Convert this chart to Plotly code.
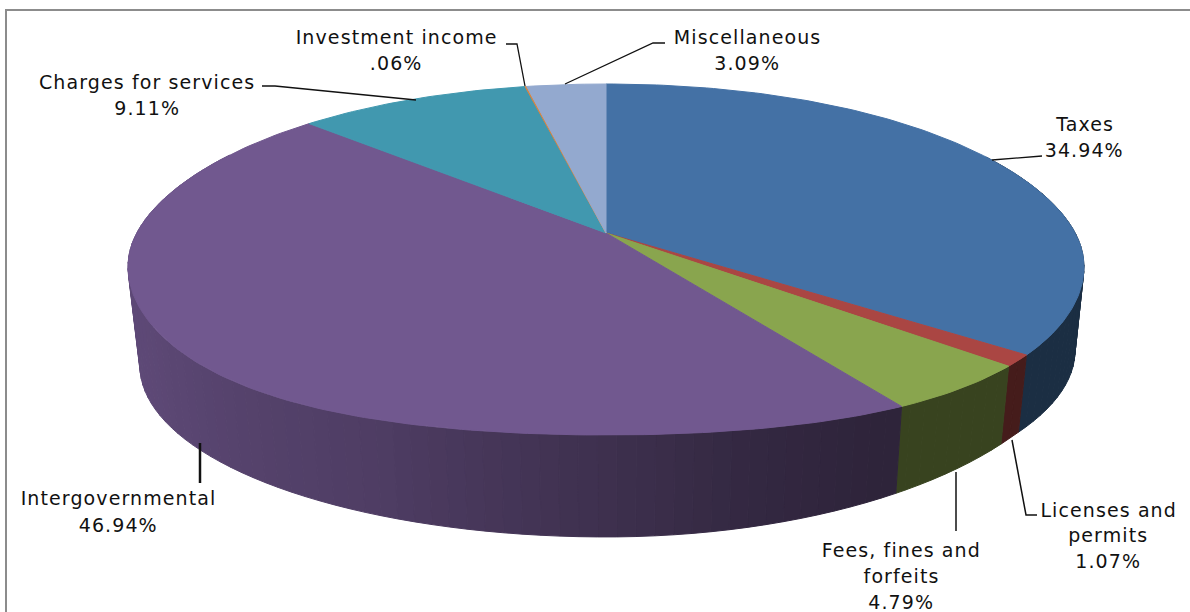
import math
import numpy as np
import plotly.graph_objects as go

categories = ["Taxes", "Licenses and permits", "Fees, fines and forfeits", "Intergovernmental",
              "Charges for services", "Investment income", "Miscellaneous"]
values = [34.94, 1.07, 4.79, 46.94, 9.11, 0.06, 3.09]
value_labels = ["34.94%", "1.07%", "4.79%", "46.94%", "9.11%", ".06%", "3.09%"]
colors = ["#4471a5", "#aa4643", "#89a54e", "#71588f", "#4198af", "#db843d", "#93a9cf"]

CX, CY = 606.0, 233.0
FX, FY, K = 472.5, 171.5, 0.151
SB, Y0 = 0.975, 340.0
BULGE = 10.0
SIDE_DROP = 7.0
RIGHT_LIFT = 15.0
RIGHT_PUSH = 3.0


def plane(a):
    X, Y = math.sin(a), math.cos(a)
    w = 1 + K * Y
    return CX + FX * X / w, CY - FY * Y / w


def top(a):
    x, y = plane(a)
    y += SIDE_DROP * math.sin(a) ** 4
    if math.cos(a) < 0:
        y += BULGE * math.sin(2 * a) ** 2
    return x, y


def bottom(a):
    x, y = plane(a)
    bx, by = CX + SB * (x - CX), Y0 + SB * (y - CY)
    X = math.sin(a)
    if X > 0:
        bx += RIGHT_PUSH * X
        by -= RIGHT_LIFT * min(1.0, X / 0.8) ** 2
    return bx, by


def shade(hex_color, f):
    r, g, b = int(hex_color[1:3], 16), int(hex_color[3:5], 16), int(hex_color[5:7], 16)
    return f"rgb({int(r*f)},{int(g*f)},{int(b*f)})"


def side_factor(deg):
    return float(np.interp(deg, [150, 165, 180, 205, 243, 285], [0.41, 0.46, 0.55, 0.70, 0.82, 0.87]))


fig = go.Figure()


def poly(xs, ys, color):
    fig.add_trace(go.Scatter(x=xs, y=ys, mode="lines", fill="toself", fillcolor=color,
                             line=dict(color=color, width=1), hoverinfo="skip", showlegend=False))


# side walls, painted from the back towards the viewer
strips = []
start = 0.0
for v, c in zip(values, colors):
    end = start + v * 3.6
    d = start
    while d < end - 1e-9:
        e = min(d + 2.0, end)
        if 60 < e and d < 300:
            a1, a2 = math.radians(d), math.radians(e)
            pts = [top(a1), top(a2), bottom(a2), bottom(a1)]
            strips.append((max(pts[2][1], pts[3][1]), pts, shade(c, side_factor((d + e) / 2))))
        d = e
    start = end
for _, pts, col in sorted(strips, key=lambda s: s[0]):
    poly([p[0] for p in pts] + [pts[0][0]], [p[1] for p in pts] + [pts[0][1]], col)

# top wedges
start = 0.0
for v, c in zip(values, colors):
    end = start + v * 3.6
    n = max(2, int((end - start) / 1.0))
    xs, ys = [CX], [CY]
    for i in range(n + 1):
        x, y = top(math.radians(start + (end - start) * i / n))
        xs.append(x)
        ys.append(y)
    xs.append(CX)
    ys.append(CY)
    poly(xs, ys, c)
    start = end

# leader lines
leaders = [
    ([262, 275, 416], [86, 86, 100], 1.3),
    ([506, 517, 525], [44, 44, 86], 1.3),
    ([665, 653, 565], [43, 43, 84], 1.3),
    ([1042, 992], [156, 160], 1.3),
    ([200, 200], [443, 483], 2.5),
    ([956, 956], [472, 531], 1.5),
    ([1012, 1026, 1037], [440, 515, 515], 1.5),
]
for lx, ly, w in leaders:
    fig.add_trace(go.Scatter(x=lx, y=ly, mode="lines", line=dict(color="#111111", width=w),
                             hoverinfo="skip", showlegend=False))

# labels
label_layout = [
    (1084, [124, 150], ["Taxes"]),
    (1108, [510, 535, 561], ["Licenses and", "permits"]),
    (901, [550, 576, 602], ["Fees, fines and", "forfeits"]),
    (118, [498, 525], ["Intergovernmental"]),
    (147, [82, 108], ["Charges for services"]),
    (396, [37, 63], ["Investment income"]),
    (747, [37, 63], ["Miscellaneous"]),
]
annotations = []
for (cx, ys, lines), vl in zip(label_layout, value_labels):
    for y, t in zip(ys, lines + [vl]):
        annotations.append(dict(x=cx, y=y, xref="x", yref="y", text=t, showarrow=False,
                                xanchor="center", yanchor="middle",
                                font=dict(family="DejaVu Sans", size=19, color="#111111")))

fig.update_layout(
    width=1190, height=612, margin=dict(l=0, r=0, t=0, b=0),
    paper_bgcolor="white", plot_bgcolor="white", showlegend=False,
    xaxis=dict(range=[0, 1190], visible=False, fixedrange=True),
    yaxis=dict(range=[612, 0], visible=False, fixedrange=True),
    annotations=annotations,
    shapes=[dict(type="rect", xref="x", yref="y", x0=6, y0=10, x1=1240, y1=660,
                 line=dict(color="#8c8c8c", width=2), fillcolor="rgba(0,0,0,0)", layer="below")],
)
fig.write_html("out.html", config=dict(displayModeBar=False),
               post_script="document.body.style.margin='0';document.documentElement.style.overflow='hidden';"
                           "document.querySelectorAll('.annotation-text').forEach(function(t){t.style.letterSpacing='1.1px';});")
